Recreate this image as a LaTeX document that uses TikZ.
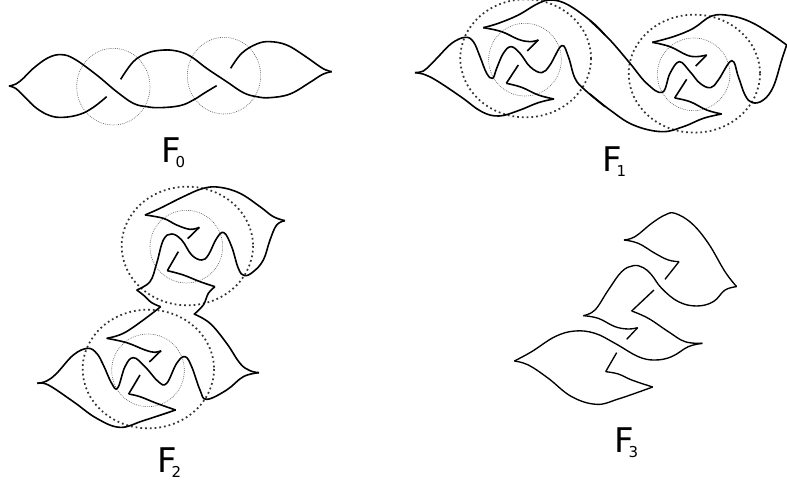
\documentclass[tikz,border=0pt]{standalone}
\usepackage{fontspec}
\setmainfont{DejaVu Sans}
\tikzset{
  strand/.style={line width=1.6pt,black,line cap=butt,line join=round},
  thinstrand/.style={line width=1.35pt,black,line cap=butt,line join=round},
  inner ring/.style={line width=0.6pt,black!65,dash pattern=on 0.8pt off 1.1pt},
  outer ring/.style={line width=1.75pt,black!80,dash pattern=on 1.75pt off 3pt},
  flabel/.style={anchor=base west,inner sep=0pt,outer sep=0pt,font=\fontsize{34}{34}\selectfont}
}
\newcommand{\mysub}[1]{\kern-5pt\raisebox{-5pt}{\fontsize{15}{15}\selectfont #1}}
\newcommand{\curve}[2][strand]{\draw[#1] plot[smooth,tension=0.65] coordinates {#2};}
\begin{document}
\begin{tikzpicture}[x=1pt,y=-1pt]
\useasboundingbox (0,0) rectangle (787,481);
% F0
\begin{scope}[shift={(0,20)},scale=0.33333]
\draw[inner ring] (340,200) ellipse [x radius=110,y radius=115];
\draw[inner ring] (672,167) ellipse [x radius=110,y radius=115];
\curve{(27,198)(48,192)(72,173)(100,145)(145,113)(185,104)(225,118)(290,165)(350,215)(400,250)(440,260)(480,263)(540,257)(580,240)(615,218)(650,197)}
\curve{(27,198)(48,206)(75,232)(110,265)(150,287)(190,292)(240,283)(280,262)(320,230)}
\curve{(362,178)(400,125)(440,100)(480,91)(525,92)(570,108)(620,145)(680,185)(730,218)(770,230)(810,233)(870,222)(930,187)(968,163)(995,155)}
\curve{(692,145)(725,100)(770,72)(810,65)(860,75)(910,105)(960,140)(978,150)(995,155)}
\end{scope}
% F1 left part
\begin{scope}[shift={(405,0)},scale=0.33333]
\draw[inner ring] (360,179) circle [radius=109];
\draw[outer ring] (362,175) ellipse [x radius=196,y radius=177];
\curve{(447,297)(400,308)(340,332)(282,348)(230,335)(170,292)(100,245)(60,224)(30,218)}
\curve{(30,218)(55,213)(78,193)(100,170)(140,130)(180,112)(205,125)(225,170)(245,220)(263,235)(275,205)(295,160)(318,140)(345,160)(375,200)(410,218)(435,195)(470,137)(490,170)(510,235)(540,270)(600,320)}
\curve{(235,83)(280,70)(340,45)(400,10)(440,0)(490,15)(560,65)(600,105)}
\curve{(235,83)(290,95)(340,118)(375,125)(400,120)}
\draw[strand] (400,120) -- (367,153);
\draw[strand] (340,195) -- (304,250);
\curve{(304,250)(350,262)(400,285)(447,297)}
\end{scope}
% F1 right part
\begin{scope}[shift={(590,0)},scale=0.33333]
\draw[inner ring] (311,223) circle [radius=109];
\draw[outer ring] (313,221) ellipse [x radius=197,y radius=177];
\curve{(0,62)(60,120)(120,190)(170,250)(217,277)(240,220)(268,185)(300,215)(330,250)(362,263)(385,240)(425,182)(445,230)(465,285)(487,308)(520,300)(550,260)(575,180)(590,135)}
\curve{(590,135)(540,100)(480,65)(420,47)(365,48)(310,85)(250,110)(187,127)}
\curve{(187,127)(240,140)(290,165)(320,170)(350,165)}
\draw[strand] (350,165) -- (317,198);
\draw[strand] (290,238) -- (254,294);
\curve{(254,294)(300,305)(350,330)(395,342)}
\curve{(395,342)(340,355)(280,380)(215,395)(130,375)(60,330)(0,282)}
\end{scope}
% F2 upper part
\begin{scope}[shift={(110,180)},scale=0.33333]
\draw[inner ring] (229,200) circle [radius=109];
\draw[outer ring] (232,198) ellipse [x radius=197,y radius=178];
\curve{(105,105)(150,85)(220,50)(280,25)(330,22)(390,40)(450,80)(490,110)(525,122)}
\curve{(525,122)(500,135)(480,180)(460,240)(430,275)(403,287)(385,265)(365,200)(342,158)(320,175)(295,225)(275,240)(245,225)(215,180)(185,162)(160,180)(140,250)(120,305)(80,330)}
\curve{(80,330)(100,345)(125,368)(152,380)}
\curve{(105,105)(160,115)(200,135)(240,148)(268,142)}
\draw[strand] (268,142) -- (233,176);
\draw[strand] (205,215) -- (172,272);
\curve{(172,272)(220,285)(270,305)(315,320)}
\curve{(315,320)(295,340)(280,375)(252,403)}
\end{scope}
% F2 lower part
\begin{scope}[shift={(30,300)},scale=0.33333]
\draw[inner ring] (354,211) circle [radius=109];
\draw[outer ring] (355,207) ellipse [x radius=197,y radius=178];
\curve{(392,20)(340,60)(280,100)(230,115)}
\curve{(230,115)(290,128)(345,150)(375,157)(393,152)}
\draw[strand] (393,152) -- (358,186);
\curve{(492,42)(540,70)(590,130)(630,190)(660,212)(687,218)}
\curve{(687,218)(640,230)(590,270)(530,298)(510,270)(485,200)(465,170)(440,190)(410,250)(385,245)(345,200)(310,173)(285,200)(263,264)(245,250)(220,195)(200,160)(173,145)(130,165)(80,220)(50,243)(22,250)}
\curve{(22,250)(55,255)(130,305)(200,355)(270,382)(340,362)(437,330)}
\curve{(437,330)(380,310)(330,290)(296,282)}
\draw[strand] (296,282) -- (330,225);
\end{scope}
% F3
\begin{scope}[shift={(505,200)},scale=0.33333]
\curve[thinstrand]{(357,120)(390,110)(440,70)(480,45)(510,40)(560,70)(610,130)(660,215)(695,260)}
\curve[thinstrand]{(695,260)(660,270)(625,305)(575,318)(520,305)(470,265)(440,225)(415,203)(385,197)(350,215)(310,270)(270,330)(235,347)}
\curve[thinstrand]{(235,347)(280,355)(330,380)(370,387)(398,383)}
\draw[thinstrand] (398,383) -- (365,418);
\curve[thinstrand]{(357,120)(400,130)(450,160)(490,180)(522,185)}
\draw[thinstrand] (522,185) -- (480,238);
\draw[thinstrand] (447,270) -- (380,333);
\curve[thinstrand]{(380,333)(430,355)(490,395)(540,425)(592,430)}
\curve[thinstrand]{(592,430)(550,440)(500,470)(450,480)(400,470)(330,430)(270,400)(210,393)(150,410)(80,455)(28,483)}
\curve[thinstrand]{(28,483)(70,495)(130,535)(200,590)(275,613)(340,597)(443,561)}
\curve[thinstrand]{(443,561)(380,540)(340,522)(302,515)}
\draw[thinstrand] (302,515) -- (335,458);
\end{scope}
% Labels
\node[flabel] (f0) at (161,163) {F\mysub{0}};
\node[flabel] (f1) at (602,172) {F\mysub{1}};
\node[flabel] (f2) at (157,472) {F\mysub{2}};
\node[flabel] (f3) at (614,452) {F\mysub{3}};
\end{tikzpicture}
\end{document}
